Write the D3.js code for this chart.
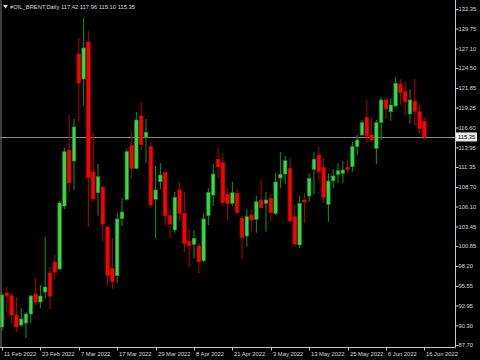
<!DOCTYPE html>
<html><head><meta charset="utf-8">
<script src="https://cdn.jsdelivr.net/npm/d3@7"></script>
<style>html,body{margin:0;padding:0;background:#000;}svg{display:block;}</style>
</head><body>
<svg id="c" width="480" height="360"></svg>
<script>
const symbol = "#OIL_BRENT,Daily";
const lastOHLC = ["117.42", "117.96", "115.10", "115.35"];
const currentPrice = 115.35;

const openP = [90.09, 94.61, 94.21, 91.69, 90.35, 90.62, 91.82, 94.48, 93.41, 94.74,
97.27, 98.73, 97.80, 106.17, 113.61, 112.15, 126.37, 123.05, 127.96, 110.69,
107.94, 108.70, 103.38, 97.84, 96.91, 104.48, 107.06, 114.18, 111.18, 118.13,
115.25, 114.05, 107.06, 109.40, 110.60, 104.88, 102.98, 108.30, 105.20, 101.43,
101.08, 100.86, 98.90, 104.88, 107.63, 112.38, 111.92, 107.73, 106.53, 107.86,
104.54, 102.18, 104.97, 104.40, 106.97, 106.53, 107.19, 105.20, 109.89, 110.42,
111.18, 104.75, 100.99, 106.97, 107.50, 111.05, 112.95, 111.26, 106.40, 109.53,
110.38, 110.52, 111.31, 111.39, 114.05, 115.61, 117.91, 115.61, 113.84, 117.29,
120.26, 118.70, 119.46, 122.38, 121.36, 118.40, 120.12, 118.70, 117.42];
const highP = [94.61, 95.41, 94.61, 94.08, 92.62, 92.08, 94.34, 96.60, 95.67, 102.05,
98.07, 99.66, 106.84, 113.92, 118.26, 117.73, 128.54, 131.15, 129.43, 115.91,
111.75, 108.74, 103.42, 101.92, 105.28, 107.23, 113.75, 116.14, 118.66, 120.03,
117.73, 114.72, 111.53, 111.84, 110.60, 105.73, 108.07, 109.32, 108.07, 103.07,
102.98, 101.29, 105.20, 108.52, 111.75, 113.97, 113.17, 108.52, 109.40, 108.39,
104.84, 105.73, 105.73, 107.50, 109.63, 108.07, 107.86, 110.60, 113.35, 112.82,
112.51, 106.30, 107.50, 107.86, 110.52, 113.35, 114.05, 112.51, 110.52, 111.05,
111.84, 112.19, 112.38, 114.72, 115.61, 117.60, 120.26, 117.91, 117.60, 120.62,
120.62, 120.48, 123.27, 123.01, 122.69, 121.72, 123.05, 119.59, 117.96];
const lowP = [89.56, 92.08, 90.62, 89.43, 90.09, 88.63, 90.62, 93.01, 92.62, 93.95,
92.48, 96.47, 97.67, 105.77, 108.07, 108.30, 117.37, 119.50, 103.42, 106.74,
104.88, 101.52, 95.67, 95.18, 95.98, 103.51, 106.87, 109.72, 111.09, 113.61,
111.89, 105.86, 101.88, 108.39, 103.65, 101.88, 102.62, 104.08, 100.10, 98.10,
99.22, 97.23, 98.69, 103.65, 106.17, 109.85, 106.17, 104.22, 106.17, 104.97,
99.13, 100.76, 102.76, 102.62, 105.86, 102.76, 104.22, 104.97, 108.52, 109.10,
104.08, 100.76, 100.55, 103.87, 106.74, 107.77, 109.63, 106.61, 104.08, 108.52,
109.19, 109.19, 110.52, 110.73, 112.95, 115.47, 114.58, 114.72, 111.75, 114.94,
117.69, 117.51, 119.29, 119.59, 118.26, 117.16, 116.93, 115.74, 115.10];
const closeP = [94.34, 94.21, 91.69, 90.09, 91.15, 91.82, 94.21, 93.41, 94.21, 95.41,
94.21, 97.40, 106.57, 113.39, 109.23, 116.67, 122.52, 127.17, 109.93, 107.10,
110.06, 103.78, 96.91, 96.11, 104.45, 105.37, 113.39, 111.18, 117.60, 114.37,
115.97, 106.30, 108.30, 110.29, 104.88, 103.78, 107.33, 105.20, 101.21, 100.90,
101.88, 98.77, 104.45, 107.99, 110.42, 111.39, 106.61, 106.53, 107.94, 105.33,
101.96, 104.75, 104.31, 106.74, 105.95, 106.97, 105.28, 109.36, 110.38, 112.19,
104.18, 101.12, 106.53, 106.70, 109.85, 112.38, 110.73, 107.33, 109.49, 110.16,
110.86, 110.96, 111.05, 114.05, 114.94, 117.24, 115.47, 114.94, 117.24, 120.26,
119.06, 119.59, 122.48, 121.28, 120.03, 120.26, 118.70, 116.50, 115.35];

const priceTicks = [132.35, 129.75, 127.10, 124.50, 121.85, 119.25, 116.60, 113.95, 111.35,
108.70, 106.10, 103.45, 100.85, 98.20, 95.55, 92.95, 90.30, 87.70];
const dateLabels = ["11 Feb 2022", "23 Feb 2022", "7 Mar 2022", "17 Mar 2022", "29 Mar 2022",
"8 Apr 2022", "21 Apr 2022", "3 May 2022", "13 May 2022", "25 May 2022", "6 Jun 2022", "16 Jun 2022"];
const dateLabelBars = [0, 8, 16, 24, 32, 40, 48, 56, 64, 72, 80, 88];

const svg = d3.select("#c");
const W = 480, H = 360;
const plotRight = 455.5, plotBottom = 347.5;
const FONT = "'Liberation Sans', Arial, sans-serif";
const FS = 5.8;

const bars = openP.map((o, i) => ({i, o, h: highP[i], l: lowP[i], c: closeP[i]}));

const x = d3.scaleLinear().domain([0, 88]).range([2, 424.4]);
const y = d3.scaleLinear().domain([87.70, 132.35]).range([345, 9]);

svg.append("rect").attr("width", W).attr("height", H).attr("fill", "#000");

const plot = svg.append("g");
plot.append("clipPath").attr("id", "clip").append("rect")
  .attr("x", 0).attr("y", 0).attr("width", plotRight).attr("height", plotBottom);
const cg = plot.append("g").attr("clip-path", "url(#clip)");

// current price line
cg.append("line").attr("x1", 0).attr("x2", plotRight)
  .attr("y1", Math.round(y(currentPrice)) + 0.5).attr("y2", Math.round(y(currentPrice)) + 0.5)
  .attr("stroke", "#8a8a8a").attr("stroke-width", 1);

const up = d => d.c >= d.o;
const bw = 3.4;
cg.selectAll("line.wick").data(bars).join("line").attr("class", "wick")
  .attr("x1", d => x(d.i)).attr("x2", d => x(d.i))
  .attr("y1", d => y(d.h)).attr("y2", d => y(d.l))
  .attr("stroke", d => up(d) ? "#0c8c0c" : "#a80000").attr("stroke-width", 1.1);
cg.selectAll("rect.body").data(bars).join("rect").attr("class", "body")
  .attr("x", d => x(d.i) - bw / 2).attr("width", bw)
  .attr("y", d => y(Math.max(d.o, d.c)))
  .attr("height", d => Math.max(1, Math.abs(y(d.o) - y(d.c))))
  .attr("fill", d => up(d) ? "#3ad84c" : "#ff0000")
  .attr("stroke", d => up(d) ? "#159a15" : "#d80000").attr("stroke-width", 0.7);

// frame
svg.append("line").attr("x1", 1).attr("x2", 1).attr("y1", 0).attr("y2", plotBottom)
  .attr("stroke", "#7a7a7a").attr("stroke-width", 1);
svg.append("line").attr("x1", plotRight).attr("x2", plotRight).attr("y1", 0).attr("y2", plotBottom)
  .attr("stroke", "#c8c8c8").attr("stroke-width", 1);
svg.append("line").attr("x1", 0).attr("x2", plotRight).attr("y1", plotBottom).attr("y2", plotBottom)
  .attr("stroke", "#c8c8c8").attr("stroke-width", 1);

// price axis
const yAxis = d3.axisRight(y).tickValues(priceTicks).tickSize(3).tickFormat(d3.format(".2f"));
const ya = svg.append("g").attr("transform", `translate(${plotRight},0)`).call(yAxis);
ya.select(".domain").remove();
ya.selectAll(".tick line").attr("stroke", "#c8c8c8");
ya.selectAll(".tick text").attr("fill", "#d8d8d8").attr("font-family", FONT)
  .attr("font-size", FS).attr("x", 3);

// current price box
const cy = y(currentPrice);
svg.append("rect").attr("x", 456).attr("y", cy - 4.5).attr("width", 21).attr("height", 9)
  .attr("fill", "#ececec");
svg.append("text").attr("x", 458).attr("y", cy).attr("dy", "0.34em")
  .attr("font-family", FONT).attr("font-size", FS).attr("fill", "#000")
  .text(d3.format(".2f")(currentPrice));

// date axis
const xa = svg.append("g");
dateLabelBars.forEach((b, k) => {
  const tx = Math.round(x(b)) + 0.5;
  xa.append("line").attr("x1", tx).attr("x2", tx).attr("y1", plotBottom).attr("y2", plotBottom + 3)
    .attr("stroke", "#c8c8c8");
  xa.append("text").attr("x", tx + 1.5).attr("y", 355.5)
    .attr("font-family", FONT).attr("font-size", FS).attr("fill", "#d8d8d8")
    .text(dateLabels[k]);
});

// title
svg.append("path").attr("d", "M3,5 L8,5 L5.5,8.5 Z").attr("fill", "#d8d8d8");
svg.append("text").attr("x", 10).attr("y", 9.2)
  .attr("font-family", FONT).attr("font-size", FS).attr("fill", "#d8d8d8")
  .text(symbol + "  " + lastOHLC.join(" "));
</script>
</body></html>
